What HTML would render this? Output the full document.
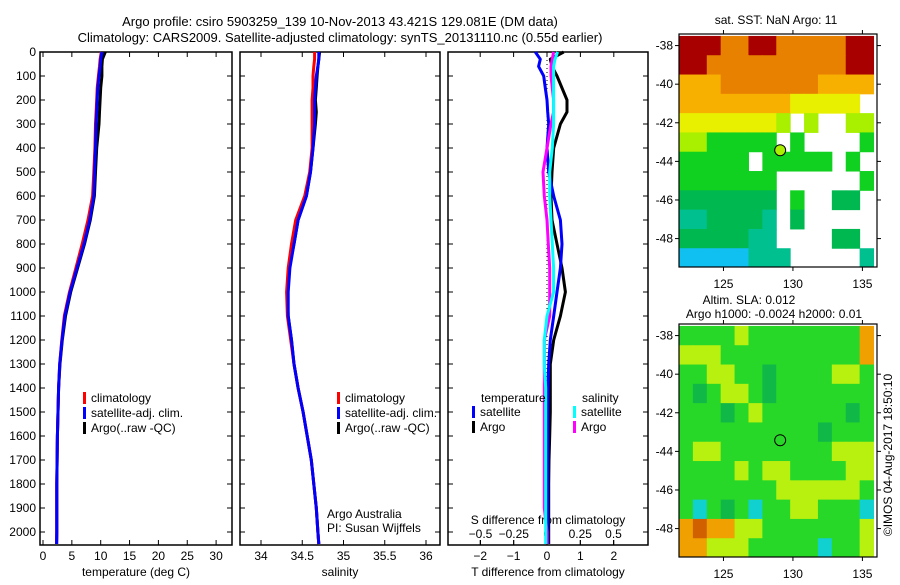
<!DOCTYPE html>
<html><head><meta charset="utf-8"><style>
body{margin:0;background:#fff}
svg text{font-family:"Liberation Sans",sans-serif;font-size:12px;fill:#000}
</style></head><body>
<svg id="fig" width="900" height="580" viewBox="0 0 900 580" xmlns="http://www.w3.org/2000/svg">
<text x="340" y="26" text-anchor="middle" style="font-size:13px">Argo profile: csiro 5903259_139 10-Nov-2013 43.421S 129.081E (DM data)</text>
<text x="340" y="42" text-anchor="middle" style="font-size:13px">Climatology: CARS2009. Satellite-adjusted climatology: synTS_20131110.nc (0.55d earlier)</text>
<g id="p1"></g>
<g id="p2"></g>
<g id="p3"></g>
<g id="m1"></g>
<g id="m2"></g>
<text transform="translate(892,455) rotate(-90)" text-anchor="middle">©IMOS 04-Aug-2017 18:50:10</text>
</svg>
<script>
const depths=[0,30,60,100,150,200,250,300,400,500,600,700,800,900,1000,1100,1200,1300,1400,1500,1600,1700,1800,1900,2000,2050];
const tempSat=[10.2,10.0,9.9,9.7,9.5,9.4,9.3,9.2,9.1,8.95,8.8,8.1,7.1,5.9,4.7,3.8,3.3,2.9,2.7,2.6,2.5,2.45,2.4,2.4,2.4,2.35];
const tempArgo=[10.8,10.3,10.2,10.2,10.0,9.9,9.8,9.7,9.3,9.1,8.9,8.2,7.2,6.0,4.8,3.9,3.35,2.95,2.7,2.6,2.5,2.45,2.4,2.4,2.4,2.35];
const tempClim=[10.1,9.9,9.8,9.6,9.4,9.3,9.2,9.1,9.0,8.8,8.6,7.8,6.8,5.7,4.6,3.7,3.25,2.9,2.7,2.6,2.5,2.45,2.4,2.4,2.4,2.35];
const salSat=[34.7,34.7,34.69,34.67,34.66,34.65,34.65,34.65,34.63,34.6,34.55,34.45,34.4,34.35,34.33,34.33,34.37,34.4,34.45,34.51,34.56,34.61,34.64,34.67,34.69,34.7];
const salArgo=[34.71,34.7,34.69,34.68,34.67,34.66,34.67,34.66,34.63,34.6,34.55,34.45,34.4,34.34,34.32,34.33,34.37,34.4,34.45,34.51,34.56,34.61,34.64,34.67,34.69,34.7];
const salClim=[34.65,34.65,34.64,34.63,34.63,34.62,34.62,34.62,34.62,34.59,34.53,34.42,34.37,34.33,34.31,34.32,34.36,34.4,34.45,34.51,34.56,34.61,34.64,34.67,34.69,34.7];
const dTsat=[-0.35,-0.2,-0.25,-0.1,-0.05,0,0.02,0.05,0,0.05,0.2,0.4,0.45,0.4,0.3,0.2,0.1,0.05,0.03,0.02,0.02,0.02,0.02,0.02,0.02,0.02];
const dTargo=[0.5,0.1,0.15,0.3,0.45,0.6,0.6,0.4,0.2,0.15,0.12,0.15,0.3,0.45,0.55,0.4,0.2,0.1,0.1,0.1,0.08,0.06,0.05,0.05,0.05,0.05];
const dSsat=[0.08,0.06,0.05,0.05,0.05,0.05,0.05,0.05,0.04,0.02,0.02,0.03,0.04,0.05,0.05,0,-0.02,-0.02,-0.01,-0.01,-0.01,-0.01,-0.01,-0.01,-0.01,-0.01];
const dSargo=[0.05,0.04,0.03,0.03,0.04,0.05,0.05,0.03,0,-0.03,-0.02,0,0.01,0.02,0.02,0.02,-0.02,-0.02,-0.02,-0.02,-0.02,-0.02,-0.02,-0.02,0,0];
const depthTicks=[0,100,200,300,400,500,600,700,800,900,1000,1100,1200,1300,1400,1500,1600,1700,1800,1900,2000];
const tempTicks=[0,5,10,15,20,25,30];
const salTicks=[34,34.5,35,35.5,36];
const dTTicks=[-2,-1,0,1,2];
const dSTicks=[-0.5,-0.25,0,0.25,0.5];
const sstGrid=["88877887777788","88777777777788","66677777776666","6666666655555.","55555554.4..44","4433333.3....3","33333.33333.3.","3333333......3","2222222.3..22.","1122221.2.....","2222211....22.","00000111.....1"];
const slaGrid=["ggggyggggggggo","yyyggggggggggo","ggyyggdggggyyg","gdgyygdggggggg","gggdgyggggggdg","ggggggggggdggg","gyyggggggggyyy","ggggygyyggggyy","gggggggyyyyyyg","gcgdgcggyygggc","orooyygggggggy","ooyyygggggcggy"];
const sstColors={"0":"#10c0f0","1":"#00c090","2":"#00b850","3":"#10d020","4":"#a8f000","5":"#e8f000","6":"#f8b000","7":"#e88000","8":"#a80000"};
const slaColors={g:"#28d828",y:"#b8f010",d:"#10b848",c:"#10d0d0",o:"#f0a000",r:"#d06000"};
const latTicks=[-38,-40,-42,-44,-46,-48];
const lonTicks=[125,130,135];

const NS="http://www.w3.org/2000/svg";
function mk(parent,tag,attrs,txt){const e=document.createElementNS(NS,tag);for(const k in attrs)e.setAttribute(k,attrs[k]);if(txt!==undefined)e.textContent=txt;parent.appendChild(e);return e;}
const Y=d=>52+d*0.24;
const TOP=52,BOT=545;

function panel(g,x0,x1,xs,ticks,fmt,label,showY){
  const r=mk(g,'rect',{x:x0,y:TOP,width:x1-x0,height:BOT-TOP,fill:'none',stroke:'#000','stroke-width':1.5});
  
  
  depthTicks.forEach(d=>{
    mk(g,'line',{x1:x0,x2:x0+5,y1:Y(d),y2:Y(d),stroke:'#000'});
    mk(g,'line',{x1:x1-5,x2:x1,y1:Y(d),y2:Y(d),stroke:'#000'});
    if(showY){const t=mk(g,'text',{x:x0-4,y:Y(d)+4,'text-anchor':'end'},String(d));
      
      }
  });
  if(ticks){ticks.forEach(v=>{
    const x=xs(v);
    mk(g,'line',{x1:x,x2:x,y1:BOT,y2:BOT-5,stroke:'#000'});
    mk(g,'line',{x1:x,x2:x,y1:TOP,y2:TOP+5,stroke:'#000'});
    const t=mk(g,'text',{x:x,y:560,'text-anchor':'middle'},fmt(v));
    
    
  });}
  const l=mk(g,'text',{x:(x0+x1)/2,y:576,'text-anchor':'middle'},label);
  
  
}
function line(g,vals,xs,color,name){
  const pts=vals.map((v,i)=>xs(v).toFixed(1)+','+Y(depths[i]).toFixed(1)).join(' ');
  const p=mk(g,'polyline',{points:pts,fill:'none',stroke:color,'stroke-width':3,'stroke-linejoin':'round'});
  
  
}
function legend(g,x,y,items){
  items.forEach((it,i)=>{
    mk(g,'rect',{x:x,y:y+i*15-10,width:3,height:12,fill:it[1]});
    const t=mk(g,'text',{x:x+8,y:y+i*15},it[0]);
    
    
  });
}
// Panel 1
const p1=document.getElementById('p1');
const xT=v=>43+v*5.77;
panel(p1,40,232,xT,tempTicks,String,'temperature (deg C)',true);
line(p1,tempArgo,xT,'#000','temp-argo-line');
line(p1,tempClim,xT,'#f00','temp-climatology-line');
line(p1,tempSat,xT,'#00f','temp-satellite-line');
legend(p1,83,402,[['climatology','#f00'],['satellite-adj. clim.','#00f'],['Argo(..raw -QC)','#000']]);
// Panel 2
const p2=document.getElementById('p2');
const xS=v=>261+(v-34)*82.5;
panel(p2,240,440,xS,salTicks,String,'salinity',false);
line(p2,salArgo,xS,'#000','sal-argo-line');
line(p2,salClim,xS,'#f00','sal-climatology-line');
line(p2,salSat,xS,'#00f','sal-satellite-line');
legend(p2,337,402,[['climatology','#f00'],['satellite-adj. clim.','#00f'],['Argo(..raw -QC)','#000']]);
let t=mk(p2,'text',{x:327,y:518},'Argo Australia');
t=mk(p2,'text',{x:327,y:532},'PI: Susan Wijffels');
// Panel 3
const p3=document.getElementById('p3');
const xDT=v=>547+v*33.4, xDS=v=>547+v*133;
panel(p3,448,648,xDT,dTTicks,v=>String(v).replace('-','−'),'T difference from climatology',false);
dSTicks.forEach(v=>{const x=xDS(v);mk(p3,'line',{x1:x,x2:x,y1:BOT,y2:BOT-5,stroke:'#000'});
  const s=mk(p3,'text',{x:x,y:538,'text-anchor':'middle'},String(v).replace('-','−').replace('0.','0.').replace(/^0\./,'0.').replace('−0.','−0.'));
  });
t=mk(p3,'text',{x:548,y:524,'text-anchor':'middle'},'S difference from climatology');
mk(p3,'line',{x1:xDT(0),x2:xDT(0),y1:TOP,y2:BOT,stroke:'#000','stroke-dasharray':'1,3'});
line(p3,dTargo,xDT,'#000','dT-argo-line');
line(p3,dTsat,xDT,'#00f','dT-satellite-line');
line(p3,dSargo,xDS,'#f0f','dS-argo-line');
line(p3,dSsat,xDS,'#0ff','dS-satellite-line');
t=mk(p3,'text',{x:481,y:402},'temperature');
t=mk(p3,'text',{x:582,y:402},'salinity');
legend(p3,472,416,[['satellite','#00f'],['Argo','#000']]);
legend(p3,573,416,[['satellite','#0ff'],['Argo','#f0f']]);
// Maps
const MX0=679,MX1=877,lonA=121.8,lonB=136.05;
const lx=lon=>MX0+(lon-lonA)*(MX1-MX0)/(lonB-lonA);
function map(id,top,grid,colors,title){
  const g=document.getElementById(id);
  const ly=lat=>top+(-37.4-lat)*19.3;
  grid.forEach((row,r)=>{[...row].forEach((ch,c)=>{
    if(ch==='.'||ch===' ')return;
    const x=Math.max(MX0,lx(122+c-0.2)),x2=Math.min(MX1,lx(123+c-0.2));
    const y=Math.max(top,ly(-37.5-r)),y2=Math.min(top+233,ly(-38.5-r));
    const cell=mk(g,'rect',{x:x,y:y,width:x2-x+0.5,height:y2-y+0.5,fill:colors[ch]});
    
    
  });});
  const f=mk(g,'rect',{x:MX0,y:top,width:MX1-MX0,height:233,fill:'none',stroke:'#000','stroke-width':1.2});
  
  latTicks.forEach(la=>{const y=ly(la);mk(g,'line',{x1:MX1,x2:MX1+4,y1:y,y2:y,stroke:'#000'});mk(g,'line',{x1:MX0-4,x2:MX0,y1:y,y2:y,stroke:'#000'});
    const tt=mk(g,'text',{x:MX0-6,y:y+4,'text-anchor':'end'},String(la).replace('-','-'));});
  lonTicks.forEach(lo=>{const x=lx(lo);mk(g,'line',{x1:x,x2:x,y1:top-4,y2:top,stroke:'#000'});mk(g,'line',{x1:x,x2:x,y1:top+233,y2:top+237,stroke:'#000'});
    const tt=mk(g,'text',{x:x,y:top+254,'text-anchor':'middle'},String(lo));});
  const c=mk(g,'circle',{cx:lx(129.081),cy:ly(-43.421),r:5.5,fill:id==='m1'?'#a8f000':'none',stroke:'#000','stroke-width':1});
  
  title.forEach((s,i)=>{const tt=mk(g,'text',{x:s[1],y:s[2],'text-anchor':'middle'},s[0]);});
}
map('m1',34,sstGrid,sstColors,[['sat. SST: NaN Argo: 11',776,24]]);
map('m2',324,slaGrid,slaColors,[['Altim. SLA: 0.012',749,304],['Argo h1000: -0.0024 h2000: 0.01',774,318]]);
</script>
</body></html>
